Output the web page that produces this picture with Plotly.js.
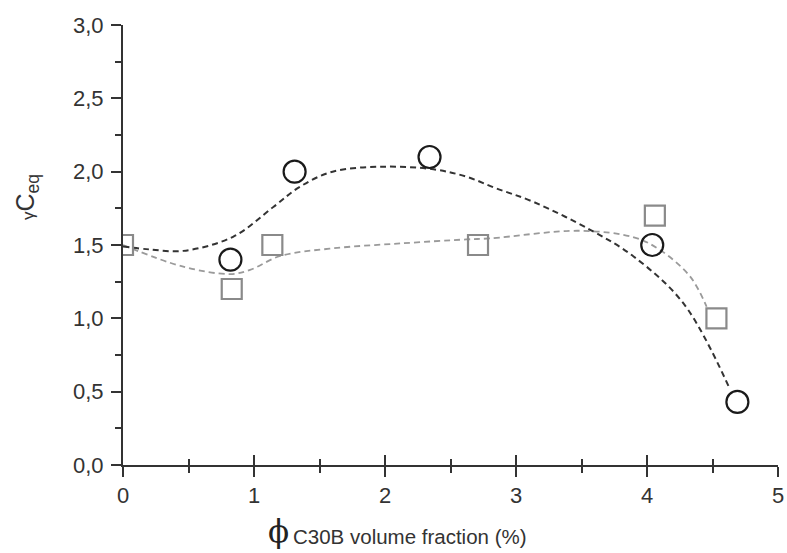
<!DOCTYPE html>
<html>
<head>
<meta charset="utf-8">
<script src="https://cdn.plot.ly/plotly-3.0.1.min.js"></script>
<style>html,body{margin:0;padding:0;background:#fff;}#chart{width:787px;height:553px;}</style>
</head>
<body>
<div id="chart"></div>
<script>
// Measured points (open circles, black)
const circleX = [0.82, 1.31, 2.34, 4.04, 4.69];
const circleY = [1.40, 2.00, 2.10, 1.50, 0.43];
// Measured points (open squares, grey)
const squareX = [0.0, 0.83, 1.14, 2.71, 4.06, 4.53];
const squareY = [1.50, 1.20, 1.50, 1.50, 1.70, 1.00];
// Dashed fitted curve through circles
const fitBlackX = [0, 0.2, 0.46, 0.84, 1.15, 1.35, 1.6, 1.99, 2.37, 2.62, 2.85, 3.13, 3.57, 3.9, 4.28, 4.63];
const fitBlackY = [1.49, 1.47, 1.46, 1.556, 1.761, 1.897, 2.0, 2.034, 2.016, 1.966, 1.886, 1.795, 1.602, 1.42, 1.10, 0.523];
// Dashed fitted curve through squares
const fitGreyX = [0, 0.46, 0.82, 0.97, 1.2, 1.6, 2.12, 2.62, 2.8, 3.49, 3.9, 4.1, 4.33, 4.455];
const fitGreyY = [1.5, 1.352, 1.302, 1.33, 1.425, 1.477, 1.511, 1.538, 1.545, 1.597, 1.552, 1.466, 1.284, 1.079];
// Tick labels
const xTicks = [0, 1, 2, 3, 4, 5];
const xTickText = ['0', '1', '2', '3', '4', '5'];
const yTicks = [0, 0.5, 1, 1.5, 2, 2.5, 3];
const yTickText = ['0,0', '0,5', '1,0', '1,5', '2,0', '2,5', '3,0'];

const tickFont = {family: 'Liberation Sans, Arial, sans-serif', size: 22, color: '#333'};

const traces = [
  {x: fitGreyX, y: fitGreyY, mode: 'lines', line: {color: '#9a9a9a', width: 1.8, dash: '6px,4px', shape: 'spline', smoothing: 1}, hoverinfo: 'skip', showlegend: false},
  {x: fitBlackX, y: fitBlackY, mode: 'lines', line: {color: '#333333', width: 2, dash: '6px,4px', shape: 'spline', smoothing: 1}, hoverinfo: 'skip', showlegend: false},
  {x: squareX, y: squareY, mode: 'markers', marker: {symbol: 'square-open', size: 20, color: '#8a8a8a', line: {width: 2.2, color: '#8a8a8a'}}, showlegend: false},
  {x: circleX, y: circleY, mode: 'markers', marker: {symbol: 'circle-open', size: 22, color: '#1a1a1a', line: {width: 2.2, color: '#1a1a1a'}}, showlegend: false},
  {x: [null], y: [null], xaxis: 'x2', yaxis: 'y', mode: 'markers', showlegend: false, hoverinfo: 'skip'}
];

const L = 123, R = 9, T = 25, B = 88;
const W = 787 - L - R, H = 553 - T - B;
const px = v => (v - L) / W;
const py = v => (553 - B - v) / H;

const layout = {
  width: 787, height: 553,
  margin: {l: L, r: R, t: T, b: B, pad: 0},
  paper_bgcolor: '#fff', plot_bgcolor: '#fff',
  showlegend: false,
  xaxis: {
    range: [0, 5], tickvals: xTicks, ticktext: xTickText,
    showgrid: false, zeroline: false, showline: true, linecolor: '#333', linewidth: 2,
    ticks: 'outside', ticklen: 10, tickwidth: 2, tickcolor: '#333',
    minor: {tickvals: [0.5, 1.5, 2.5, 3.5, 4.5], ticks: 'outside', ticklen: 6, tickwidth: 2, tickcolor: '#333', showgrid: false},
    tickfont: tickFont, ticklabelstandoff: 0, fixedrange: true
  },
  xaxis2: {
    overlaying: 'x', anchor: 'y', range: [0, 5], tickvals: xTicks, ticktext: xTickText, showticklabels: false,
    showgrid: false, zeroline: false, showline: false,
    ticks: 'inside', ticklen: 10, tickwidth: 2, tickcolor: '#333',
    minor: {tickvals: [0.5, 1.5, 2.5, 3.5, 4.5], ticks: 'inside', ticklen: 6, tickwidth: 2, tickcolor: '#333', showgrid: false},
    fixedrange: true
  },
  yaxis: {
    range: [0, 3], tickvals: yTicks, ticktext: yTickText,
    showgrid: false, zeroline: false, showline: true, linecolor: '#333', linewidth: 2,
    ticks: 'outside', ticklen: 10, tickwidth: 2, tickcolor: '#333',
    minor: {tickvals: [0.25, 0.75, 1.25, 1.75, 2.25, 2.75], ticks: 'outside', ticklen: 6, tickwidth: 2, tickcolor: '#333', showgrid: false},
    tickfont: tickFont, ticklabelstandoff: 3, fixedrange: true
  },
  annotations: [
    {xref: 'paper', yref: 'paper', x: px(278), y: py(531), xanchor: 'center', yanchor: 'middle', showarrow: false,
     text: 'ϕ', font: {family: 'DejaVu Serif, Liberation Serif, serif', size: 31, color: '#222'}},
    {xref: 'paper', yref: 'paper', x: px(291), y: py(536), xanchor: 'left', yanchor: 'middle', showarrow: false,
     text: 'C30B volume fraction (%)', font: {family: 'Liberation Sans, Arial, sans-serif', size: 20.5, color: '#333'}},
    {xref: 'paper', yref: 'paper', x: px(27), y: py(197), xanchor: 'center', yanchor: 'middle', showarrow: false, textangle: -90,
     text: '<span style="font-size:17px">γ</span>C<sub>eq</sub>', font: {family: 'Liberation Sans, Arial, sans-serif', size: 25, color: '#333'}}
  ]
};

Plotly.newPlot('chart', traces, layout, {displayModeBar: false, staticPlot: true});
</script>
</body>
</html>
